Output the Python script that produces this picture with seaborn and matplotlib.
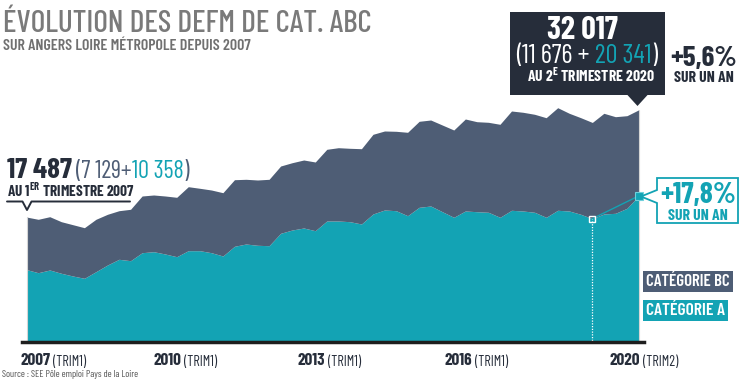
import matplotlib
matplotlib.use("Agg")
import matplotlib.pyplot as plt
import seaborn as sns
import numpy as np
from matplotlib import font_manager
from matplotlib.patches import Polygon, Rectangle
from matplotlib.lines import Line2D
from matplotlib.text import Annotation

# trimestres 2007 T1 -> 2020 T2
quarters = np.arange(54)
cat_a = [10358, 9942, 10308, 9860, 9494, 9182, 10077, 10986, 11759, 11569,
         12654, 12790, 12478, 12112, 12926, 12926, 12654, 12207, 13522, 13834,
         13658, 13604, 15285, 15733, 16004, 15638, 16954, 16954, 16859, 16547,
         17903, 18446, 18351, 17673, 18812, 18988, 18215, 17455, 18310, 18215,
         18134, 17455, 18405, 18310, 18134, 17455, 18405, 18310, 17862, 17267,
         17903, 17998, 18676, 20341]
cat_bc = [7129, 7242, 7229, 6999, 6958, 6863, 7107, 6876, 6592, 6972,
          7691, 7690, 7867, 8056, 8680, 8463, 8504, 8585, 9033, 8775,
          8857, 9005, 9128, 9128, 9223, 9318, 9724, 9941, 9955, 10213,
          10810, 10715, 10769, 11311, 11664, 11664, 11759, 11841, 12478, 12207,
          12206, 12614, 13468, 13387, 13292, 13509, 13916, 13251, 13102, 13053,
          13658, 13102, 12560, 11676]
year_labels = ["2007", "2010", "2013", "2016", "2020"]
trim_labels = ["(TRIM1)", "(TRIM1)", "(TRIM1)", "(TRIM1)", "(TRIM2)"]
year_label_pos = [-0.55, 11.0, 23.5, 36.2, 50.5]
i_prev = 49  # meme trimestre un an avant

TEAL = "#13a3b4"
SLATE = "#4e5d75"
DARK = "#262d3a"
GREY = "#7a7a7a"

sns.set_theme(style="white")
avail = {f.name for f in font_manager.fontManager.ttflist}
FONT = "DejaVu Sans"
for cand in ["Barlow Condensed", "Saira Condensed", "Roboto Condensed", "Liberation Sans Narrow"]:
    if cand in avail:
        FONT = cand
        break
plt.rcParams["font.family"] = [FONT, "DejaVu Sans"]

W, H = 744, 388
fig = plt.figure(figsize=(W / 100, H / 100), dpi=100)
renderer = fig.canvas.get_renderer()


def fx(px):
    return px / W


def fy(py):
    return 1 - py / H


def size_for(s, width, size=10, **kw):
    t = fig.text(0, 0, s, fontsize=size, **kw)
    w = t.get_window_extent(renderer).width
    t.remove()
    return size * width / w


def txt(px, py, s, width=None, size=10, **kw):
    if width:
        size = size_for(s, width, size, weight=kw.get("weight", "normal"))
    return fig.text(fx(px), fy(py), s, fontsize=size, va="baseline", **kw)


def after(prev, s, size, dx=0, dy=0, **kw):
    a = Annotation(s, xy=(1, 0), xycoords=prev, xytext=(dx, dy), textcoords="offset points",
                   fontsize=size, va="bottom", ha="left", annotation_clip=False, **kw)
    a.set_zorder(5)
    fig.add_artist(a)
    return a


ax = fig.add_axes([fx(21.7), fy(342.3), (643.7 - 21.7) / W, (342.3 - 100) / H])
ax.patch.set_alpha(0)
total = np.array(cat_a) + np.array(cat_bc)
ax.fill_between(quarters, 0, cat_a, color=TEAL, lw=0)
ax.fill_between(quarters, cat_a, total, color=SLATE, lw=0)
ax.set_xlim(-0.43, 53.45)
ax.set_ylim(502, 33365)
ax.set_xticks([])
ax.set_yticks([])
sns.despine(ax=ax, left=True, top=True, right=True)
ax.spines["bottom"].set_color("#1e1e1e")
ax.spines["bottom"].set_linewidth(2.5)

# bords clairs
ax.plot([0, 0], [0, total[0]], color="#d5d5d5", lw=0.8)
ax.plot([53, 53], [0, total[-1]], color="#d5d5d5", lw=0.8)

# repere un an avant
ax.plot([i_prev, i_prev], [0, cat_a[i_prev]], color="white", lw=0.9, ls=(0, (1, 1.2)))
ax.plot([i_prev, 53], [cat_a[i_prev], cat_a[-1]], color=TEAL, lw=1)
ax.plot([i_prev], [cat_a[i_prev]], marker="s", ms=5, mfc="none", mec="white", mew=1)
ax.plot([53], [cat_a[-1]], marker="s", ms=6, mfc=TEAL, mec="#6fd0db", mew=0.8, clip_on=False)

# titre
txt(3, 32, "ÉVOLUTION DES DEFM DE CAT. ABC", width=369, size=24, color=GREY, weight="medium")
txt(3, 50, "SUR ANGERS LOIRE MÉTROPOLE DEPUIS 2007", width=247, size=10, color="#707070", weight="semibold")

# annotation debut
t = txt(7, 178, "17 487", width=65, size=18, color=DARK, weight="bold")
fs = size_for("(7 129+10 358)", 113, 14)
t = after(t, "(7 129+", fs, dx=3, color=SLATE)
t = after(t, "10 358", fs, color=TEAL)
after(t, ")", fs, color=SLATE)
txt(7, 196.5, r"AU 1$^{\mathregular{ER}}$ TRIMESTRE 2007", width=128, size=10, color=DARK, weight="bold")
fig.add_artist(Line2D([fx(7), fx(22.5), fx(27), fx(31.5), fx(130)],
                      [fy(201.5), fy(201.5), fy(210), fy(201.5), fy(201.5)],
                      color=DARK, lw=1.4))

# annotation fin
fig.add_artist(Rectangle((fx(510), fy(95)), (665 - 510) / W, (95 - 12) / H, color=DARK, lw=0))
fig.add_artist(Polygon([(fx(627), fy(94.5)), (fx(648), fy(94.5)), (fx(637.5), fy(106))], color=DARK, lw=0))
txt(582.5, 39, "32 017", width=71, size=20, color="white", weight="bold", ha="center")
fs = size_for("(11 676 + 20 341)", 141, 14)
t = txt(516, 63, "(11 676 + ", size=fs, color="white")
t = after(t, "20 341", fs, color=TEAL)
after(t, ")", fs, color="white")
txt(591, 82, r"AU 2$^{\mathregular{E}}$ TRIMESTRE 2020", width=128, size=10, color="white",
    weight="bold", ha="center")
txt(704, 66, "+5,6%", width=67, size=16, color=DARK, weight="bold", ha="center")
txt(704, 81.5, "SUR UN AN", width=60, size=9, color=DARK, weight="bold", ha="center")

# encadre +17,8%
fig.add_artist(Polygon([(fx(657), fy(178)), (fx(738), fy(178)), (fx(738), fy(223)),
                        (fx(657), fy(223)), (fx(657), fy(203)), (fx(641), fy(196.5)),
                        (fx(657), fy(190))], closed=True, fc="white", ec=TEAL, lw=1.3))
txt(698, 203.5, "+17,8%", width=76, size=16, color=TEAL, weight="bold", ha="center")
txt(698, 219.5, "SUR UN AN", width=60, size=9, color=TEAL, weight="bold", ha="center")

# legende
txt(646, 286, "CATÉGORIE BC", width=83, size=10.5, color="white", weight="semibold",
    bbox=dict(boxstyle="square,pad=0.2", fc=SLATE, ec="none"))
txt(646, 315, "CATÉGORIE A", width=78, size=10.5, color="white", weight="semibold",
    bbox=dict(boxstyle="square,pad=0.2", fc=TEAL, ec="none"))

# axe des annees
ys = size_for("2007", 30, 12, weight="bold")
ts = size_for("(TRIM1)", 33, 8)
for pos, yl, tl in zip(year_label_pos, year_labels, trim_labels):
    t = ax.text(pos, -0.094, yl, transform=ax.get_xaxis_transform(), fontsize=ys,
                color=DARK, weight="bold", va="baseline", ha="left")
    after(t, tl, ts, dx=2, dy=-0.8, color=DARK)

txt(2, 377, "Source : SEE Pôle emploi Pays de la Loire", width=137, size=7, color="#555555")

fig.savefig("out.png", dpi=100)
